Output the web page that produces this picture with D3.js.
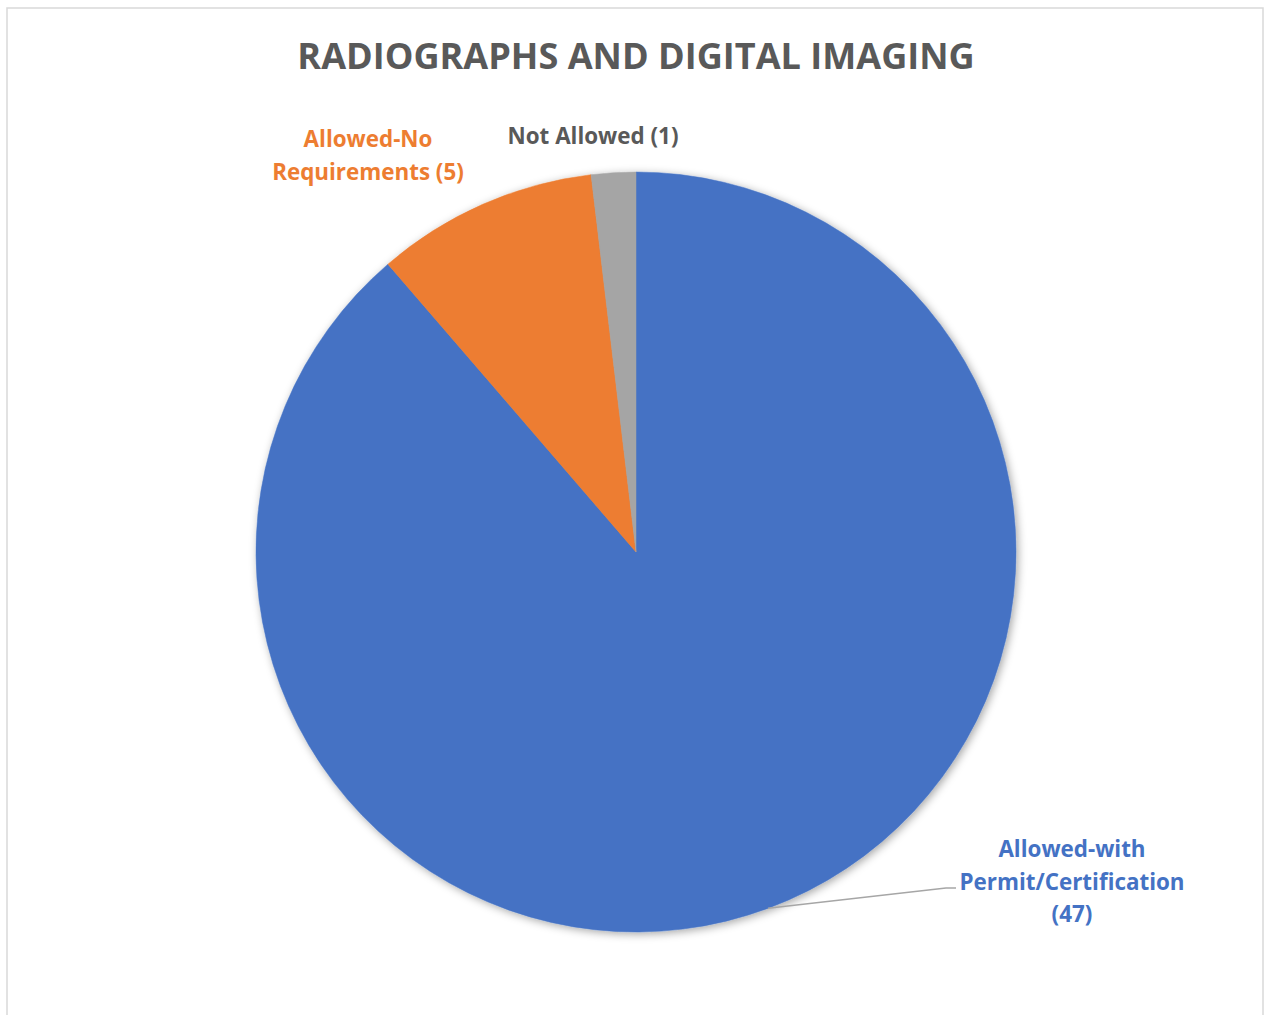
<!DOCTYPE html>
<html>
<head>
<meta charset="utf-8">
<script src="https://cdn.jsdelivr.net/npm/d3@7"></script>
<style>
  html, body { margin: 0; padding: 0; background: #fff; }
  svg { display: block; }
  text { font-family: "Open Sans", Lato, sans-serif; font-weight: bold; }
</style>
</head>
<body>
<script>
const title = "RADIOGRAPHS AND DIGITAL IMAGING";
const categories = ["Allowed-with Permit/Certification", "Allowed-No Requirements", "Not Allowed"];
const values = [47, 5, 1];
const colors = ["#4472C4", "#ED7D31", "#A5A5A5"];
const labelColors = ["#4472C4", "#ED7D31", "#595959"];
const labelLines = [
  ["Allowed-with", "Permit/Certification", "(47)"],
  ["Allowed-No", "Requirements (5)"],
  ["Not Allowed (1)"]
];

const W = 1265, H = 1015;
const svg = d3.select("body").append("svg").attr("width", W).attr("height", H);

const defs = svg.append("defs");
const f = defs.append("filter").attr("id", "shadow").attr("x", "-10%").attr("y", "-10%").attr("width", "120%").attr("height", "120%");
f.append("feDropShadow").attr("dx", 2).attr("dy", 2).attr("stdDeviation", 4)
  .attr("flood-color", "#000").attr("flood-opacity", 0.35);

svg.append("rect").attr("x", 7).attr("y", 8).attr("width", 1256).attr("height", 1020)
  .attr("fill", "#fff").attr("stroke", "#d9d9d9").attr("stroke-width", 1.5);

svg.append("text").attr("x", 636).attr("y", 69).attr("text-anchor", "middle")
  .attr("fill", "#595959").attr("font-size", 36.1).text(title);

const cx = 636, cy = 552, r = 380;
const pie = d3.pie().sort(null).value(d => d)(values);
const arc = d3.arc().innerRadius(0).outerRadius(r);

const g = svg.append("g").attr("transform", `translate(${cx},${cy})`);
g.append("g").attr("filter", "url(#shadow)")
  .selectAll("path").data(pie).join("path")
  .attr("d", arc).attr("fill", (d, i) => colors[i])
  .attr("stroke", (d, i) => colors[i]).attr("stroke-width", 0.5);

const labelPos = [
  { x: 1072, y: 857 },
  { x: 368, y: 147 },
  { x: 593, y: 144 }
];
const lh = 32.5;

// leader line for the big slice
const edgeAngle = 2.787;
const ex = cx + r * Math.sin(edgeAngle), ey = cy - r * Math.cos(edgeAngle);
svg.append("polyline")
  .attr("points", `${ex},${ey} 946,888 956,888`)
  .attr("fill", "none").attr("stroke", "#A6A6A6").attr("stroke-width", 1.5);

labelLines.forEach((lines, i) => {
  const t = svg.append("text").attr("text-anchor", "middle")
    .attr("fill", labelColors[i]).attr("font-size", 22.4);
  lines.forEach((ln, j) => {
    t.append("tspan").attr("x", labelPos[i].x).attr("y", labelPos[i].y + j * lh).text(ln);
  });
});
</script>
</body>
</html>
